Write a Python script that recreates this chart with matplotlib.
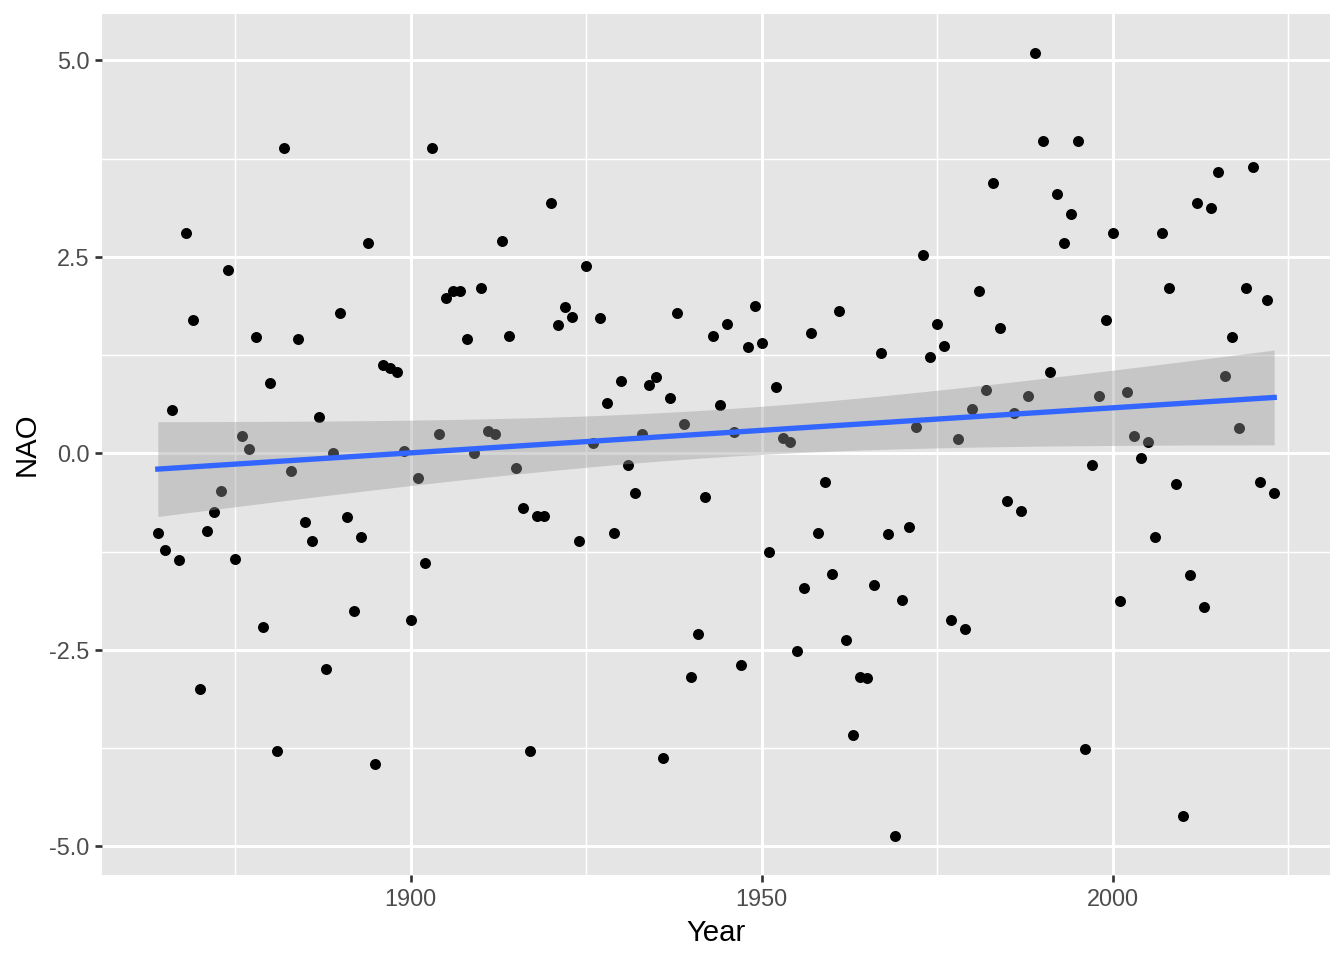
import numpy as np
import matplotlib
matplotlib.use("Agg")
import matplotlib.pyplot as plt

plt.rcParams["font.family"] = ["Liberation Sans", "DejaVu Sans"]

# NAO index per year
years = np.arange(1864, 2024)
nao = [
    -1.01, -1.23, 0.55, -1.36, 2.81, 1.70, -3.00, -0.99, -0.75, -0.48,
    2.33, -1.34, 0.22, 0.06, 1.48, -2.21, 0.90, -3.79, 3.88, -0.22,
    1.45, -0.88, -1.11, 0.46, -2.74, 0.00, 1.78, -0.81, -2.01, -1.07,
    2.68, -3.96, 1.13, 1.09, 1.03, 0.03, -2.12, -0.32, -1.40, 3.89,
    0.24, 1.98, 2.06, 2.06, 1.45, 0.00, 2.10, 0.29, 0.25, 2.70,
    1.49, -0.19, -0.69, -3.79, -0.80, -0.80, 3.19, 1.63, 1.86, 1.73,
    -1.12, 2.39, 0.13, 1.72, 0.64, -1.02, 0.92, -0.15, -0.50, 0.25,
    0.87, 0.97, -3.88, 0.71, 1.79, 0.37, -2.85, -2.30, -0.55, 1.49,
    0.61, 1.64, 0.27, -2.70, 1.35, 1.87, 1.40, -1.25, 0.84, 0.19,
    0.14, -2.51, -1.72, 1.53, -1.01, -0.36, -1.53, 1.81, -2.37, -3.59,
    -2.85, -2.86, -1.68, 1.28, -1.03, -4.87, -1.87, -0.94, 0.34, 2.53,
    1.23, 1.64, 1.37, -2.12, 0.18, -2.23, 0.57, 2.06, 0.81, 3.44,
    1.60, -0.61, 0.51, -0.74, 0.73, 5.09, 3.97, 1.04, 3.30, 2.68,
    3.04, 3.97, -3.77, -0.15, 0.73, 1.70, 2.81, -1.88, 0.78, 0.22,
    -0.06, 0.14, -1.07, 2.80, 2.11, -0.39, -4.62, -1.55, 3.18, -1.95,
    3.12, 3.58, 0.99, 1.48, 0.32, 2.10, 3.64, -0.37, 1.95, -0.51,
]
nao = np.array(nao)

# linear fit with 95% confidence band (like geom_smooth(method="lm"))
n = len(years)
slope, intercept = np.polyfit(years, nao, 1)
resid = nao - (intercept + slope * years)
s = np.sqrt(np.sum(resid ** 2) / (n - 2))
xg = np.linspace(years.min(), years.max(), 80)
yg = intercept + slope * xg
se = s * np.sqrt(1 / n + (xg - years.mean()) ** 2 / np.sum((years - years.mean()) ** 2))
t975 = 1.975
lo, hi = yg - t975 * se, yg + t975 * se

fig = plt.figure(figsize=(7, 5), dpi=192)
ax = fig.add_axes([0.0759, 0.0885, 0.9137, 0.8966])
ax.set_facecolor("#E5E5E5")
for sp in ax.spines.values():
    sp.set_visible(False)

ax.scatter(years, nao, s=17, color="black", zorder=3, linewidths=0)
ax.fill_between(xg, lo, hi, color="#999999", alpha=0.4, linewidth=0, zorder=4)
ax.plot(xg, yg, color="#3366FF", linewidth=2.0, zorder=5)

xr = years.max() - years.min()
ax.set_xlim(years.min() - 0.05 * xr, years.max() + 0.05 * xr)
ymin, ymax = min(nao.min(), lo.min()), max(nao.max(), hi.max())
yr = ymax - ymin
ax.set_ylim(ymin - 0.05 * yr, ymax + 0.05 * yr)

ax.set_xticks([1900, 1950, 2000])
ax.set_xticks([1875, 1925, 1975, 2025], minor=True)
ax.set_yticks([-5.0, -2.5, 0.0, 2.5, 5.0])
ax.set_yticklabels(["-5.0", "-2.5", "0.0", "2.5", "5.0"])
ax.set_yticks([-3.75, -1.25, 1.25, 3.75], minor=True)

ax.grid(which="major", color="white", linewidth=1.1)
ax.grid(which="minor", color="white", linewidth=0.55)
ax.set_axisbelow(True)
ax.tick_params(which="major", length=2.75, width=1.0, color="#333333",
               labelsize=8.8, labelcolor="#4D4D4D", pad=2)
ax.tick_params(which="minor", length=0)

ax.set_xlabel("Year", fontsize=11, labelpad=3)
ax.set_ylabel("NAO", fontsize=11, labelpad=3)

fig.savefig("out.png", dpi=192)
